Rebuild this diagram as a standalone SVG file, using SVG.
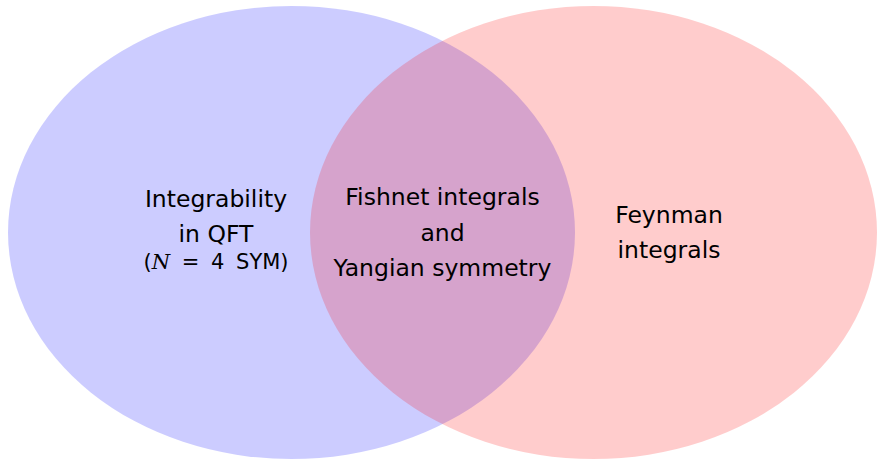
<svg xmlns="http://www.w3.org/2000/svg" width="877" height="460" viewBox="0 0 877 460">
<style>
.lbl{font-family:"DejaVu Sans","Liberation Sans",sans-serif;font-size:23.5px;fill:#000;text-anchor:middle}
.small{font-size:21px;word-spacing:5px}
.cal{font-family:"DejaVu Serif","Liberation Serif",serif;font-style:italic}
</style>
<rect width="877" height="460" fill="#fff"/>
<g id="qft">
<ellipse cx="291.5" cy="232.5" rx="283.5" ry="226.5" fill="#0000ff" fill-opacity="0.2"/>
<text class="lbl" x="216" y="207">Integrability</text>
<text class="lbl" x="216" y="242">in QFT</text>
<text class="lbl small" x="216" y="269">(<tspan class="cal">N</tspan> = 4 SYM)</text>
</g>
<g id="feynman">
<ellipse cx="593.5" cy="232.5" rx="283.5" ry="226.5" fill="#ff0000" fill-opacity="0.2"/>
<text class="lbl" x="669" y="223">Feynman</text>
<text class="lbl" x="669" y="258">integrals</text>
</g>
<g id="fishnet">
<text class="lbl" x="442.5" y="205">Fishnet integrals</text>
<text class="lbl" x="442.5" y="241">and</text>
<text class="lbl" x="442.5" y="276">Yangian symmetry</text>
</g>
<g id="connectors"/>
</svg>
